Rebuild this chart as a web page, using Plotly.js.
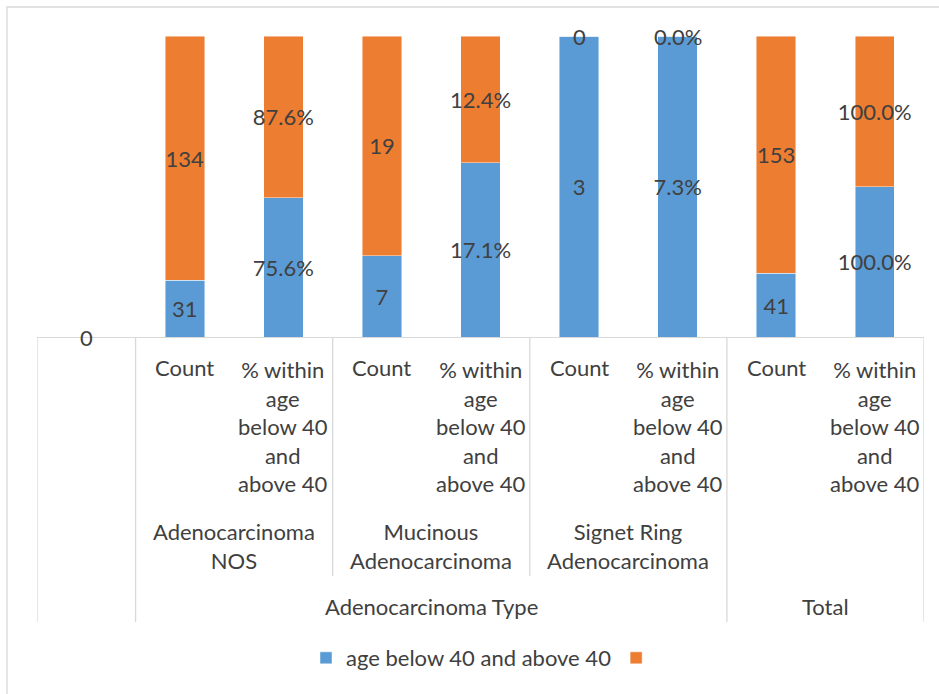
<!DOCTYPE html>
<html>
<head>
<meta charset="utf-8">
<script src="https://cdn.plot.ly/plotly-3.0.1.min.js"></script>
<style>html,body{margin:0;padding:0;background:#fff;}#chart{width:939px;height:694px;}</style>
</head>
<body>
<div id="chart"></div>
<script>
// ---- data ----
const barLabels = ["", "Count", "% within<br>age<br>below 40<br>and<br>above 40",
  "Count", "% within<br>age<br>below 40<br>and<br>above 40",
  "Count", "% within<br>age<br>below 40<br>and<br>above 40",
  "Count", "% within<br>age<br>below 40<br>and<br>above 40"];
const valueKinds = ["count", "count", "pct", "count", "pct", "count", "pct", "count", "pct"];
const typeLabels = ["Adenocarcinoma<br>NOS", "Mucinous<br>Adenocarcinoma", "Signet Ring<br>Adenocarcinoma", ""];
const typeSpans = [[1, 2], [3, 4], [5, 6], [7, 8]];
const groupLabels = ["Adenocarcinoma Type", "Total"];
const groupSpans = [[1, 6], [7, 8]];
const blueName = "age below 40 and above 40";
const orangeName = "";
const blueValues = [0, 31, 75.6, 7, 17.1, 3, 7.3, 41, 100.0];
const orangeValues = [null, 134, 87.6, 19, 12.4, 0, 0.0, 153, 100.0];

// ---- helpers ----
const xs = barLabels.map((_, i) => i);
const fmt = (v, k) => v === null ? "" : (k === "pct" ? v.toFixed(1) + "%" : String(v));
const FONT = "Lato, 'Open Sans', sans-serif";
const TXT = "#404040";
const GRID = "#D9D9D9";
// plot area in pixels: left 37, right 924, top 36, bottom 337
const PT = 36, PB = 337, PL = 37, PR = 924;
const py = p => (PB - p) / (PB - PT);
const px = p => (p - PL) / (PR - PL);

const blueText = blueValues.map((v, i) => (v === null || v === 0) ? "" : fmt(v, valueKinds[i]));
const orangeText = orangeValues.map((v, i) => (v === null || v === 0) ? "" : fmt(v, valueKinds[i]));

const common = {
  type: "bar", x: xs, textposition: "inside", insidetextanchor: "middle",
  constraintext: "none", textangle: 0,
  textfont: {family: FONT, size: 22, color: TXT},
  hoverinfo: "skip"
};
const traces = [
  Object.assign({}, common, {name: blueName, y: blueValues, text: blueText,
    marker: {color: "#5B9BD5", line: {color: "rgba(255,255,255,0.6)", width: 0.75}}}),
  Object.assign({}, common, {name: orangeName, y: orangeValues, text: orangeText,
    marker: {color: "#ED7D31", line: {color: "rgba(255,255,255,0.6)", width: 0.75}}})
];

const annotations = [];
// zero-value labels, centred on their stack position
blueValues.forEach((v, i) => {
  if (v === 0) annotations.push({x: i, xref: "x", y: 0, yref: "y", text: fmt(v, valueKinds[i]),
    showarrow: false, yanchor: "middle", font: {family: FONT, size: 22, color: TXT}});
});
orangeValues.forEach((v, i) => {
  if (v === 0) {
    annotations.push({x: i, xref: "x", y: 100, yref: "y", text: fmt(v, valueKinds[i]),
      showarrow: false, yanchor: "middle", font: {family: FONT, size: 22, color: TXT}});
  }
});
// level 1 labels
barLabels.forEach((t, i) => {
  if (!t) return;
  const lines = t.split("<br>").length;
  annotations.push({x: i, xref: "x", y: py(368 + (lines - 1) * 29.3 / 2), yref: "paper", text: t,
    showarrow: false, yanchor: "middle", xanchor: "center", align: "center",
    font: {family: FONT, size: 22, color: TXT}});
});
// level 2 labels
typeLabels.forEach((t, k) => {
  if (!t) return;
  const s = typeSpans[k];
  annotations.push({x: (s[0] + s[1]) / 2, xref: "x", y: py(545.5), yref: "paper", text: t,
    showarrow: false, yanchor: "middle", xanchor: "center", align: "center",
    font: {family: FONT, size: 22, color: TXT}});
});
// level 3 labels
groupLabels.forEach((t, k) => {
  const s = groupSpans[k];
  annotations.push({x: (s[0] + s[1]) / 2, xref: "x", y: py(606.5), yref: "paper", text: t,
    showarrow: false, yanchor: "middle", xanchor: "center", align: "center",
    font: {family: FONT, size: 22, color: TXT}});
});

const shapes = [];
// outer chart border
shapes.push({type: "rect", xref: "paper", yref: "paper", x0: px(7), x1: px(960), y0: py(7), y1: py(720),
  line: {color: GRID, width: 1.3}, fillcolor: "rgba(0,0,0,0)"});
// category divider lines
const longLines = [-0.5, 0.5, 6.5, 8.5];
const shortLines = [2.5, 4.5];
longLines.forEach(x => shapes.push({type: "line", xref: "x", yref: "paper", x0: x, x1: x, y0: 0, y1: py(622),
  line: {color: GRID, width: 1.3}}));
shortLines.forEach(x => shapes.push({type: "line", xref: "x", yref: "paper", x0: x, x1: x, y0: 0, y1: py(576),
  line: {color: GRID, width: 1.3}}));

const layout = {
  width: 939, height: 694,
  margin: {l: PL, r: 939 - PR, t: PT, b: 694 - PB, pad: 0},
  paper_bgcolor: "#fff", plot_bgcolor: "#fff",
  barmode: "stack", barnorm: "percent", bargap: 0.6,
  showlegend: true,
  legend: {orientation: "h", x: px(484), xanchor: "center", y: py(658), yanchor: "middle",
    font: {family: FONT, size: 22, color: TXT}, itemgap: 37, traceorder: "normal"},
  xaxis: {range: [-0.5, 8.5], showticklabels: false, ticks: "", showgrid: false, zeroline: false,
    showline: true, linecolor: GRID, linewidth: 1.3, fixedrange: true},
  yaxis: {range: [0, 100], visible: false, showgrid: false, zeroline: false, fixedrange: true},
  annotations: annotations,
  shapes: shapes,
  font: {family: FONT, color: TXT}
};

Plotly.newPlot("chart", traces, layout, {displayModeBar: false, staticPlot: true});
</script>
</body>
</html>
